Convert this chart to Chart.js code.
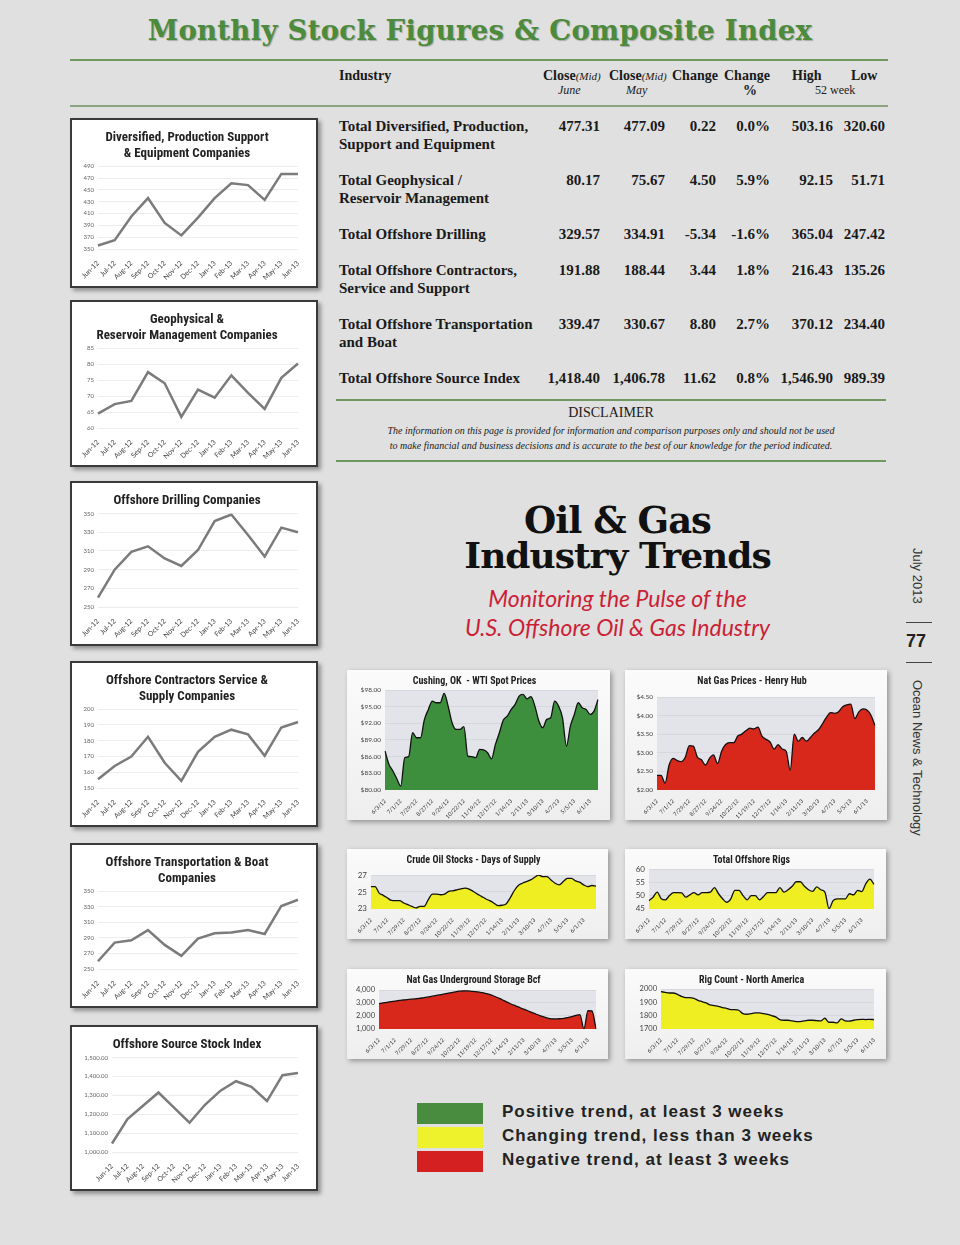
<!DOCTYPE html>
<html>
<head>
<meta charset="utf-8">
<script src="https://cdn.jsdelivr.net/npm/chart.js@4"></script>
<style>
  html, body { margin: 0; padding: 0; }
  body { width: 960px; height: 1245px; background: #dfe0df; position: relative; overflow: hidden; font-family: 'Liberation Serif', serif; color: #1a1a1a; }
  .abs { position: absolute; }
  .rule { position: absolute; height: 2px; background: #6f9a5f; }
  .title { left: 0; width: 960px; top: 14px; text-align: center; font-family: 'DejaVu Serif', serif; font-weight: bold; font-size: 27.5px; color: #4b8b3b; text-shadow: 1px 1px 1px rgba(0,0,0,0.25); letter-spacing: 0.3px; }
  .cell { position: absolute; font-weight: bold; font-size: 15px; line-height: 18px; white-space: nowrap; }
  .num { text-align: right; width: 80px; }
  .hdr { position: absolute; font-weight: bold; font-size: 14px; white-space: nowrap; }
  .sub { position: absolute; font-style: italic; font-size: 12px; white-space: nowrap; }
  .box { position: absolute; background: #fff; border: 2px solid #3a3a3a; box-shadow: 3px 3px 4px rgba(0,0,0,0.35); box-sizing: border-box; }
  .abox { position: absolute; background: linear-gradient(#fbfbfb, #eeeeee); box-shadow: 2px 2px 5px rgba(0,0,0,0.35); box-sizing: border-box; }
  .box div, .abox div { position: relative; width: 100%; height: 100%; }
  .big { left: 360px; width: 515px; text-align: center; font-family: 'DejaVu Serif', serif; font-weight: bold; color: #111; letter-spacing: -1px; }
  .red { left: 360px; width: 515px; text-align: center; font-family: Lato, sans-serif; font-style: italic; font-size: 23px; color: #cc1f36; }
  .vert { position: absolute; writing-mode: vertical-rl; font-family: 'Liberation Sans', sans-serif; font-size: 13px; color: #333; white-space: nowrap; }
  .leg { position: absolute; left: 417px; width: 66px; height: 21px; }
  .legt { position: absolute; left: 502px; font-family: 'Liberation Sans', sans-serif; font-weight: bold; font-size: 17px; color: #222; white-space: nowrap; letter-spacing: 1px; }
</style>
</head>
<body>

<div class="abs title">Monthly Stock Figures &amp; Composite Index</div>
<div class="rule" style="left:70px; width:818px; top:59px;"></div>
<div class="rule" style="left:70px; width:818px; top:105px; background:#8aa580;"></div>
<div class="rule" style="left:336px; width:550px; top:399px;"></div>
<div class="rule" style="left:336px; width:550px; top:460px;"></div>

<div class="hdr" style="left:339px; top:68px;">Industry</div>
<div class="hdr" style="left:543px; top:68px;">Close<i style="font-weight:normal;font-size:11px;">(Mid)</i></div>
<div class="sub" style="left:558px; top:83px;">June</div>
<div class="hdr" style="left:609px; top:68px;">Close<i style="font-weight:normal;font-size:11px;">(Mid)</i></div>
<div class="sub" style="left:626px; top:83px;">May</div>
<div class="hdr" style="left:672px; top:68px;">Change</div>
<div class="hdr" style="left:724px; top:68px;">Change</div>
<div class="hdr" style="left:743px; top:83px;">%</div>
<div class="hdr" style="left:792px; top:68px;">High</div>
<div class="hdr" style="left:851px; top:68px;">Low</div>
<div class="sub" style="left:815px; top:83px; font-style:normal;">52 week</div>

<div id="table"></div>

<div class="abs" style="left:336px; width:550px; top:405px; text-align:center; font-size:14px;">DISCLAIMER</div>
<div class="abs" style="left:336px; width:550px; top:423px; text-align:center; font-size:10px; font-style:italic; line-height:15px;">The information on this page is provided for information and comparison purposes only and should not be used<br>to make financial and business decisions and is accurate to the best of our knowledge for the period indicated.</div>

<div class="abs big" style="top:498px; font-size:37px;">Oil &amp; Gas</div>
<div class="abs big" style="top:534px; font-size:36px;">Industry Trends</div>
<div class="abs red" style="top:584px;">Monitoring the Pulse of the</div>
<div class="abs red" style="top:613px;">U.S. Offshore Oil &amp; Gas Industry</div>

<div class="vert" style="left:910px; top:548px;">July 2013</div>
<div class="abs" style="left:906px; top:622px; width:26px; height:1px; background:#444;"></div>
<div class="abs" style="left:906px; top:631px; font-family:'Liberation Sans',sans-serif; font-weight:bold; font-size:18px; color:#222;">77</div>
<div class="abs" style="left:906px; top:662px; width:26px; height:1px; background:#444;"></div>
<div class="vert" style="left:910px; top:680px;">Ocean News &amp; Technology</div>

<div class="box" style="left:70px; top:118px; width:248px; height:170px;"><div><canvas id="c1"></canvas></div></div>
<div class="box" style="left:70px; top:300px; width:248px; height:167px;"><div><canvas id="c2"></canvas></div></div>
<div class="box" style="left:70px; top:481px; width:248px; height:165px;"><div><canvas id="c3"></canvas></div></div>
<div class="box" style="left:70px; top:661px; width:248px; height:166px;"><div><canvas id="c4"></canvas></div></div>
<div class="box" style="left:70px; top:843px; width:248px; height:165px;"><div><canvas id="c5"></canvas></div></div>
<div class="box" style="left:70px; top:1025px; width:248px; height:166px;"><div><canvas id="c6"></canvas></div></div>

<div class="abox" style="left:347px; top:670px; width:263px; height:150px;"><div><canvas id="a1"></canvas></div></div>
<div class="abox" style="left:625px; top:670px; width:262px; height:150px;"><div><canvas id="a2"></canvas></div></div>
<div class="abox" style="left:347px; top:849px; width:261px; height:90px;"><div><canvas id="a3"></canvas></div></div>
<div class="abox" style="left:625px; top:849px; width:261px; height:90px;"><div><canvas id="a4"></canvas></div></div>
<div class="abox" style="left:347px; top:969px; width:261px; height:90px;"><div><canvas id="a5"></canvas></div></div>
<div class="abox" style="left:625px; top:969px; width:261px; height:90px;"><div><canvas id="a6"></canvas></div></div>

<div class="leg" style="top:1103px; background:#4a8c3f;"></div>
<div class="leg" style="top:1127px; background:#eef22c;"></div>
<div class="leg" style="top:1151px; background:#d42020;"></div>
<div class="legt" style="top:1102px;">Positive trend, at least 3 weeks</div>
<div class="legt" style="top:1126px;">Changing trend, less than 3 weeks</div>
<div class="legt" style="top:1150px;">Negative trend, at least 3 weeks</div>

<script>
// table values
const rowNames = [
  ['Total Diversified, Production,', 'Support and Equipment'],
  ['Total Geophysical /', 'Reservoir Management'],
  ['Total Offshore Drilling'],
  ['Total Offshore Contractors,', 'Service and Support'],
  ['Total Offshore Transportation', 'and Boat'],
  ['Total Offshore Source Index']
];
const closeJune = ['477.31', '80.17', '329.57', '191.88', '339.47', '1,418.40'];
const closeMay = ['477.09', '75.67', '334.91', '188.44', '330.67', '1,406.78'];
const changeAbs = ['0.22', '4.50', '-5.34', '3.44', '8.80', '11.62'];
const changePct = ['0.0%', '5.9%', '-1.6%', '1.8%', '2.7%', '0.8%'];
const high52 = ['503.16', '92.15', '365.04', '216.43', '370.12', '1,546.90'];
const low52 = ['320.60', '51.71', '247.42', '135.26', '234.40', '989.39'];

// monthly stock charts
const months = ['Jun-12', 'Jul-12', 'Aug-12', 'Sep-12', 'Oct-12', 'Nov-12', 'Dec-12',
  'Jan-13', 'Feb-13', 'Mar-13', 'Apr-13', 'May-13', 'Jun-13'];
const diversified = [356, 365, 405, 436, 394, 373, 403, 436, 461, 458, 433, 477, 477];
const geophysical = [64.5, 67.5, 68.5, 77.5, 74, 63.5, 72, 69.5, 76.5, 71, 66, 75.7, 80.2];
const drilling = [260, 290, 309, 315, 302, 294, 311, 342, 349, 327, 304, 335, 330];
const contractors = [155.5, 164, 170, 182.5, 166, 154.5, 173, 182.5, 187, 184, 170.5, 188.4, 191.9];
const transport = [260, 284, 287, 300, 281, 267, 289, 296, 297, 300, 295, 331, 339];
const sourceIndex = [1045, 1175, 1245, 1315, 1235, 1155, 1250, 1325, 1375, 1345, 1270, 1407, 1418];

// weekly trend charts
const weeks = ['6/3/12', '6/10/12', '6/17/12', '6/24/12', '7/1/12', '7/8/12', '7/15/12', '7/22/12',
  '7/29/12', '8/5/12', '8/12/12', '8/19/12', '8/27/12', '9/2/12', '9/9/12', '9/16/12',
  '9/24/12', '9/30/12', '10/7/12', '10/14/12', '10/22/12', '10/28/12', '11/4/12', '11/11/12',
  '11/19/12', '11/25/12', '12/2/12', '12/9/12', '12/17/12', '12/23/12', '12/30/12', '1/6/13',
  '1/14/13', '1/20/13', '1/27/13', '2/3/13', '2/11/13', '2/17/13', '2/24/13', '3/3/13',
  '3/10/13', '3/17/13', '3/24/13', '3/31/13', '4/7/13', '4/14/13', '4/21/13', '4/28/13',
  '5/5/13', '5/12/13', '5/19/13', '5/26/13', '6/1/13', '6/9/13', '6/16/13', '6/23/13'];
const wtiSpot = [87, 84.6, 83.4, 82, 80.7, 85.8, 86, 90.3, 89.4, 89.4, 92.7, 94.5, 96, 95.7, 95.7, 97.4,
  95.1, 92.1, 90.9, 90.9, 91.4, 86.1, 86, 85.8, 87.3, 87.2, 86.7, 85.6, 88.2, 90.3, 92.6, 93.3,
  94.5, 95.4, 96.9, 97.2, 96.4, 96.8, 95.1, 92.4, 91.2, 92.7, 93, 96, 95.1, 93, 87.9, 91.5,
  93.6, 95.7, 94.8, 94.5, 93.6, 94.2, 96.3];
const henryHub = [2.39, 2.39, 2.18, 2.67, 2.85, 2.79, 2.76, 2.88, 3.19, 3.18, 2.88, 2.81, 2.67, 2.85, 2.94, 2.71,
  3.04, 3.22, 3.27, 3.27, 3.45, 3.5, 3.59, 3.66, 3.64, 3.69, 3.45, 3.36, 3.29, 3.1, 3.22, 3.1,
  3.04, 2.53, 3.5, 3.31, 3.41, 3.31, 3.41, 3.53, 3.62, 3.78, 3.96, 4.08, 4.06, 4.1, 4.24, 4.29,
  4.31, 3.92, 4.1, 4.18, 4.15, 4.01, 3.73];
const crudeDays = [25.64, 25.64, 24.86, 24.6, 24.3, 24.0, 23.97, 23.97, 23.7, 23.5, 23.3, 23.12, 23.3, 23.3, 24.1, 24.75,
  24.75, 24.67, 24.75, 25.06, 25.14, 25.25, 25.37, 25.45, 25.33, 25.06, 24.75, 24.48, 24.2, 23.97, 23.7, 23.39,
  23.43, 23.58, 24.28, 25.14, 25.76, 26.03, 26.22, 26.42, 26.73, 27.0, 26.8, 26.8, 26.42, 26.03, 25.83, 26.22,
  26.6, 26.6, 26.3, 26.15, 25.83, 25.64, 25.76, 25.7];
const offshoreRigs = [48.1, 49.4, 51.3, 48.8, 48.4, 50, 51.1, 51.1, 51, 49.4, 50.3, 51.1, 50.3, 51.1, 51.1, 51.3,
  53, 50.7, 48.8, 47.5, 48.8, 52, 52, 50, 48.4, 50, 50, 48.4, 49.7, 51.1, 51.1, 51.1,
  53, 51.3, 52.2, 53.5, 55.2, 55.2, 53.5, 52.2, 51.6, 53.3, 52.2, 51.3, 45.1, 48.1, 48.8, 48.8,
  48.8, 50.7, 50.3, 52, 51.5, 54.5, 56.2, 54.2];
const gasStorage = [2950, 3000, 3050, 3100, 3150, 3200, 3230, 3260, 3290, 3320, 3350, 3400, 3450, 3500, 3560, 3620,
  3680, 3740, 3800, 3860, 3910, 3940, 3930, 3900, 3870, 3830, 3780, 3700, 3600, 3480, 3350, 3200,
  3050, 2900, 2780, 2650, 2520, 2400, 2270, 2150, 2030, 1920, 1830, 1780, 1770, 1790, 1820, 1870,
  1950, 2050, 2100, 1000, 2400, 2380, 1000];
const rigCountNA = [1980, 1975, 1970, 1970, 1960, 1945, 1935, 1935, 1930, 1915, 1905, 1895, 1880, 1875, 1870, 1860,
  1855, 1845, 1845, 1840, 1815, 1810, 1815, 1820, 1820, 1815, 1810, 1800, 1790, 1770, 1765, 1765,
  1760, 1755, 1755, 1760, 1765, 1765, 1762, 1760, 1780, 1750, 1750, 1745, 1775, 1760, 1758, 1765,
  1770, 1772, 1770, 1772, 1770];

// build the table
const tbl = document.getElementById('table');
const rowTop = [117, 171, 225, 261, 315, 369];
const colRight = [600, 665, 716, 770, 833, 885];
const cols = [closeJune, closeMay, changeAbs, changePct, high52, low52];
rowNames.forEach((name, r) => {
  const d = document.createElement('div');
  d.className = 'cell';
  d.style.left = '339px';
  d.style.top = rowTop[r] + 'px';
  d.innerHTML = name.join('<br>');
  tbl.appendChild(d);
  cols.forEach((col, c) => {
    const n = document.createElement('div');
    n.className = 'cell num';
    n.style.left = (colRight[c] - 80) + 'px';
    n.style.top = rowTop[r] + 'px';
    n.textContent = col[r];
    tbl.appendChild(n);
  });
});

Chart.defaults.font.family = 'Lato, sans-serif';
Chart.defaults.animation = false;
const titleFont = "'Liberation Sans Narrow', 'Roboto Condensed', Lato, sans-serif";

// grey plot area behind the weekly charts
Chart.register({
  id: 'plotBg',
  beforeDraw(chart, args, opts) {
    if (!opts.color) return;
    const { ctx, chartArea: a } = chart;
    ctx.save();
    ctx.fillStyle = opts.color;
    ctx.fillRect(a.left, a.top, a.width, a.height);
    ctx.restore();
  }
});

const comma = v => v.toLocaleString('en-US');

function stockChart(id, title, values, min, max, step, fmt, yWidth) {
  new Chart(document.getElementById(id), {
    type: 'line',
    data: {
      labels: months,
      datasets: [{ data: values, borderColor: '#7b7b7b', borderWidth: 2.5, pointRadius: 0, tension: 0, fill: false }]
    },
    options: {
      responsive: true,
      maintainAspectRatio: false,
      layout: { padding: { left: 4, right: 18, top: 8, bottom: 2 } },
      plugins: {
        legend: { display: false },
        tooltip: { enabled: false },
        title: { display: true, text: title, color: '#222', font: { family: titleFont, size: 13, weight: 'bold', lineHeight: 1.2 }, padding: { top: 2, bottom: 5 } }
      },
      scales: {
        x: {
          offset: false,
          grid: { display: false },
          border: { display: false },
          ticks: { color: '#444', font: { size: 7 }, minRotation: 45, maxRotation: 45, autoSkip: false, padding: 2 }
        },
        y: {
          min: min, max: max,
          grid: { color: '#ededed', drawTicks: false },
          border: { display: false },
          ticks: { stepSize: step, color: '#666', font: { size: 6 }, padding: 4, autoSkip: false, callback: fmt },
          afterFit(s) { s.width = yWidth; }
        }
      }
    }
  });
}

stockChart('c1', ['Diversified, Production Support', '& Equipment Companies'], diversified, 350, 490, 20, v => v, 22);
stockChart('c2', ['Geophysical &', 'Reservoir Management Companies'], geophysical, 60, 85, 5, v => v, 22);
stockChart('c3', 'Offshore Drilling Companies', drilling, 250, 350, 20, v => v, 22);
stockChart('c4', ['Offshore Contractors Service &', 'Supply Companies'], contractors, 150, 200, 10, v => v, 22);
stockChart('c5', ['Offshore Transportation & Boat', 'Companies'], transport, 250, 350, 20, v => v, 22);
stockChart('c6', 'Offshore Source Stock Index', sourceIndex, 1000, 1500, 100,
  v => v.toLocaleString('en-US', { minimumFractionDigits: 2 }), 36);

function trendChart(id, title, values, color, min, max, step, fmt, yWidth, yFont, gap) {
  const labels = weeks.slice(0, values.length);
  new Chart(document.getElementById(id), {
    type: 'line',
    data: {
      labels: labels,
      datasets: [{
        data: values, borderColor: '#111', borderWidth: 1.3, pointRadius: 0,
        tension: 0.3, cubicInterpolationMode: 'monotone', fill: 'start', backgroundColor: color
      }]
    },
    options: {
      responsive: true,
      maintainAspectRatio: false,
      layout: { padding: { left: 4, right: 12, top: 4, bottom: 0 } },
      plugins: {
        legend: { display: false },
        tooltip: { enabled: false },
        plotBg: { color: '#e3e4e9' },
        title: { display: true, text: title, color: '#222', font: { family: titleFont, size: 10, weight: 'bold' }, padding: { top: 1, bottom: gap } }
      },
      scales: {
        x: {
          offset: false,
          grid: { display: false },
          border: { display: false },
          ticks: {
            color: '#333', font: { size: 5.6 }, minRotation: 45, maxRotation: 45, autoSkip: false, padding: 0,
            callback: (v, i) => (i % 4 === 0 ? labels[i] : '')
          }
        },
        y: {
          min: min, max: max,
          grid: { color: 'rgba(0,0,0,0.05)', drawTicks: false },
          border: { display: false },
          ticks: { stepSize: step, color: '#444', font: { size: yFont }, padding: 4, autoSkip: false, callback: fmt },
          afterFit(s) { s.width = yWidth; }
        }
      }
    }
  });
}

trendChart('a1', 'Cushing, OK  - WTI Spot Prices', wtiSpot, '#3d8f3d', 80, 98, 3, v => '$' + v.toFixed(2), 34, 6.5, 3);
trendChart('a2', 'Nat Gas Prices - Henry Hub', henryHub, '#d8281c', 2, 4.5, 0.5, v => '$' + v.toFixed(2), 28, 6.5, 10);
trendChart('a3', 'Crude Oil Stocks - Days of Supply', crudeDays, '#eeee22', 23, 27, 2, v => v, 20, 8, 9);
trendChart('a4', 'Total Offshore Rigs', offshoreRigs, '#eeee22', 45, 60, 5, v => v, 20, 8, 3);
trendChart('a5', 'Nat Gas Underground Storage Bcf', gasStorage, '#d8281c', 1000, 4000, 1000, comma, 28, 7.5, 4);
trendChart('a6', 'Rig Count - North America', rigCountNA, '#eeee22', 1700, 2000, 100, v => v, 32, 7.5, 3);
</script>
</body>
</html>
